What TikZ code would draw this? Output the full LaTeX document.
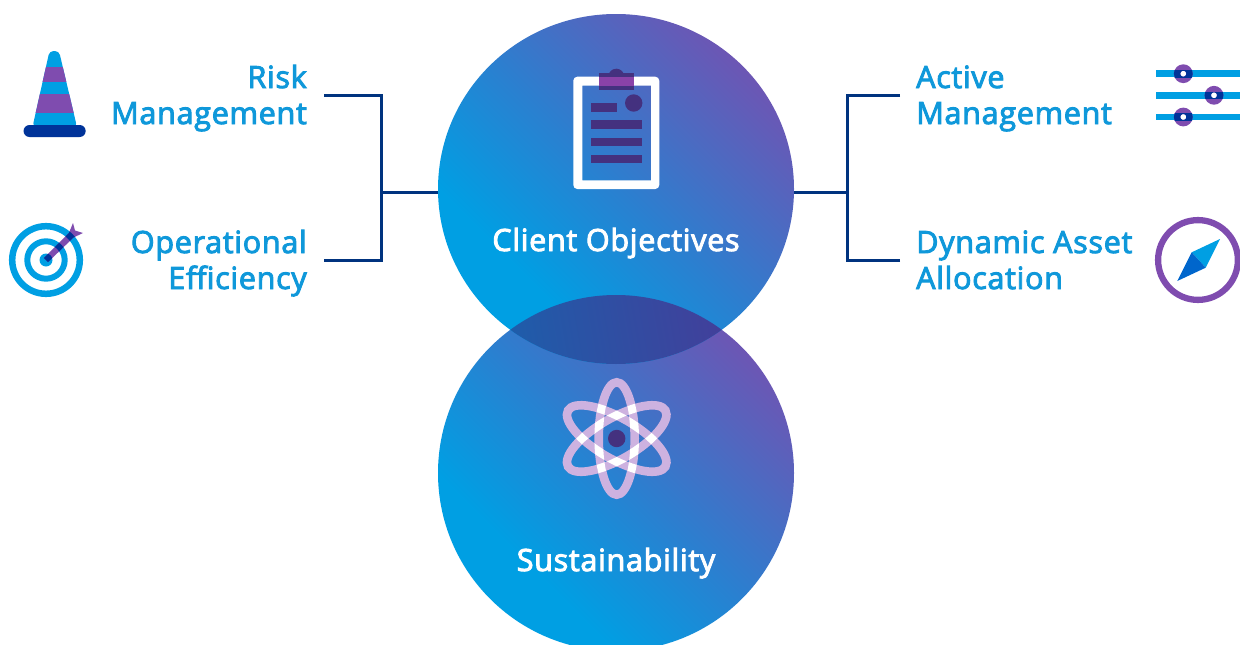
\documentclass[tikz,border=0pt]{standalone}
\usepackage{fontspec}
\setmainfont{Open Sans}[FakeBold=3,LetterSpace=2.2]
\usetikzlibrary{shapes.geometric}
\definecolor{cy}{HTML}{009FE3}
\definecolor{txtb}{HTML}{0F98DA}
\definecolor{pur}{HTML}{7F4CAF}
\definecolor{navy}{HTML}{003399}
\definecolor{linec}{HTML}{00337F}
\definecolor{dpur}{HTML}{44317F}
\definecolor{lav}{HTML}{CDB2E0}
\definecolor{lensa}{HTML}{1F5CAA}
\definecolor{lensb}{HTML}{41409B}
\definecolor{gmid}{HTML}{2A80D0}
\definecolor{gend}{HTML}{6C56B4}
\definecolor{clipmid}{HTML}{8A42A8}
\definecolor{needle}{HTML}{0066CC}
\pgfdeclarehorizontalshading{circgrad}{100bp}{color(0bp)=(cy); color(32bp)=(cy); color(50bp)=(gmid); color(75bp)=(gend); color(100bp)=(gend)}
\pgfdeclarehorizontalshading{lensgrad}{100bp}{color(0bp)=(lensa); color(25bp)=(lensa); color(75bp)=(lensb); color(100bp)=(lensb)}
\tikzset{
  x=1pt,y=-1pt,
  bubble/.style={shape=ellipse,inner sep=0pt,outer sep=0pt,shading=circgrad,shading angle=45},
  wire/.style={draw=linec,line width=3pt},
  lab/.style={text=txtb,font=\fontsize{30.6}{36}\selectfont,inner sep=0pt},
  captext/.style={text=white,font=\fontsize{30.6}{36}\selectfont,inner sep=0pt,anchor=base},
}
\begin{document}
\begin{tikzpicture}
\useasboundingbox (0,0) rectangle (1240,645);
\clip (0,0) rectangle (1240,645);
% circles
\node[bubble,minimum width=356pt,minimum height=356pt] (sus) at (616,473) {};
\node[bubble,minimum width=356pt,minimum height=350pt] (obj) at (616,189) {};
\begin{scope}
  \clip (616,189) ellipse [x radius=178,y radius=175];
  \clip (616,473) circle [radius=178];
  \shade[shading=lensgrad,shading angle=10] (505,290) rectangle (728,368);
\end{scope}
% connectors
\coordinate (jl) at (381,192);
\coordinate (jr) at (847,192);
\coordinate (lt) at (324,95.5);
\coordinate (lb) at (324,260.5);
\coordinate (rt) at (900,95.5);
\coordinate (rb) at (900,260.5);
\draw[wire] (lt) -| (jl);
\draw[wire] (lb) -| (jl);
\draw[wire] (rt) -| (jr);
\draw[wire] (rb) -| (jr);
\draw[wire] (jl) -- (jl -| obj.west);
\draw[wire] (jr) -- (jr -| obj.east);
% labels
\node[lab,anchor=base east,align=right] (risk) at (307,124) {Risk\\Management};
\node[lab,anchor=base east,align=right] (oper) at (307,289) {Operational\\Efficiency};
\node[lab,anchor=base west,align=left] (actv) at (916,124) {Active\\Management};
\node[lab,anchor=base west,align=left] (dyna) at (916,289) {Dynamic Asset\\Allocation};
\node[captext] (ctxt) at (616,251) {Client Objectives};
\node[captext] (stxt) at (616,571) {Sustainability};
% cone
\begin{scope}
  \clip[rounded corners=4pt] (49.5,51) -- (59,51) -- (77,127) -- (32.5,127) -- cycle;
  \fill[cy] (20,45) rectangle (90,127);
  \fill[pur] (20,66.7) rectangle (90,81.7);
  \fill[pur] (20,94) rectangle (90,112.7);
\end{scope}
\fill[navy,rounded corners=6pt] (23.5,125) rectangle (85.7,137);
% target
\draw[cy,line width=6.5pt] (46,260) circle [radius=33.8];
\draw[cy,line width=6pt] (46,260) circle [radius=18.7];
\fill[cy] (46,260) circle [radius=6.5];
\fill[pur] (43.9,257.9) -- (69,232.8) -- (73,223) -- (75,230.5) -- (83,233) -- (73.5,237.5) -- (48.1,262.1) -- cycle;
\begin{scope}
  \clip (43.9,257.9) -- (69,232.8) -- (73,223) -- (75,230.5) -- (83,233) -- (73.5,237.5) -- (48.1,262.1) -- cycle;
  \draw[navy,line width=6.5pt] (46,260) circle [radius=33.8];
  \draw[navy,line width=6pt] (46,260) circle [radius=18.7];
  \fill[navy] (46,260) circle [radius=6.5];
\end{scope}
% sliders
\foreach \yy in {73.7,95.3,117}{\fill[cy] (1155.7,\yy-3.3) rectangle (1240,\yy+3.3);}
\foreach \xx/\yy in {1183.3/73.7,1214/95.3,1183.3/117}{
  \fill[white] (\xx,\yy) circle [radius=4];
  \draw[pur,line width=6.3pt] (\xx,\yy) circle [radius=6.2];
  \begin{scope}
    \clip (1150,\yy-3.3) rectangle (1240,\yy+3.3);
    \draw[navy,line width=6.3pt] (\xx,\yy) circle [radius=6.2];
  \end{scope}
}
% compass
\draw[pur,line width=6.3pt] (1198,260) circle [radius=39.9];
\fill[cy] (1220,239) -- (1191.7,252.3) -- (1205.7,267.7) -- cycle;
\fill[needle] (1177.3,281) -- (1191.7,252.3) -- (1205.7,267.7) -- cycle;
% clipboard
\fill[white,even odd rule,rounded corners=4pt] (573.3,76.7) rectangle (659.3,189)
  [sharp corners] (582.3,85.7) rectangle (651,180.3);
\fill[dpur] (599,72.7) rectangle (634,90);
\fill[dpur] (608.3,76.7) arc [start angle=180,end angle=360,radius=8];
\fill[clipmid] (599,76.7) rectangle (634,85.7);
\fill[dpur] (633.7,103) circle [radius=8.7];
\fill[dpur] (590.7,103) rectangle (616.7,111.7);
\fill[dpur] (590.7,120.3) rectangle (642.3,129);
\fill[dpur] (590.7,137.7) rectangle (642.3,146.3);
\fill[dpur] (590.7,155) rectangle (642.3,163.3);
% atom
\begin{scope}[shift={(616.7,438.5)}]
  \foreach \aa/\bbb in {90/18,30/20.5,-30/20.5}{
    \draw[lav,line width=8.6pt,rotate=\aa] (0,0) ellipse [x radius=56.2,y radius=\bbb];
  }
  \foreach \aa/\ra/\bb/\rb in {90/18/120/20.5,90/18/60/20.5,30/20.5/-60/20.5}{
    \begin{scope}[rotate=\aa,even odd rule]
      \clip (0,0) ellipse [x radius=60.5,y radius=\ra+4.3] (0,0) ellipse [x radius=51.9,y radius=\ra-4.3];
      \draw[white,line width=8.6pt,rotate=\bb] (0,0) ellipse [x radius=56.2,y radius=\rb];
    \end{scope}
  }
  \fill[dpur] (0,0) circle [radius=8.7];
\end{scope}
\end{tikzpicture}
\end{document}
